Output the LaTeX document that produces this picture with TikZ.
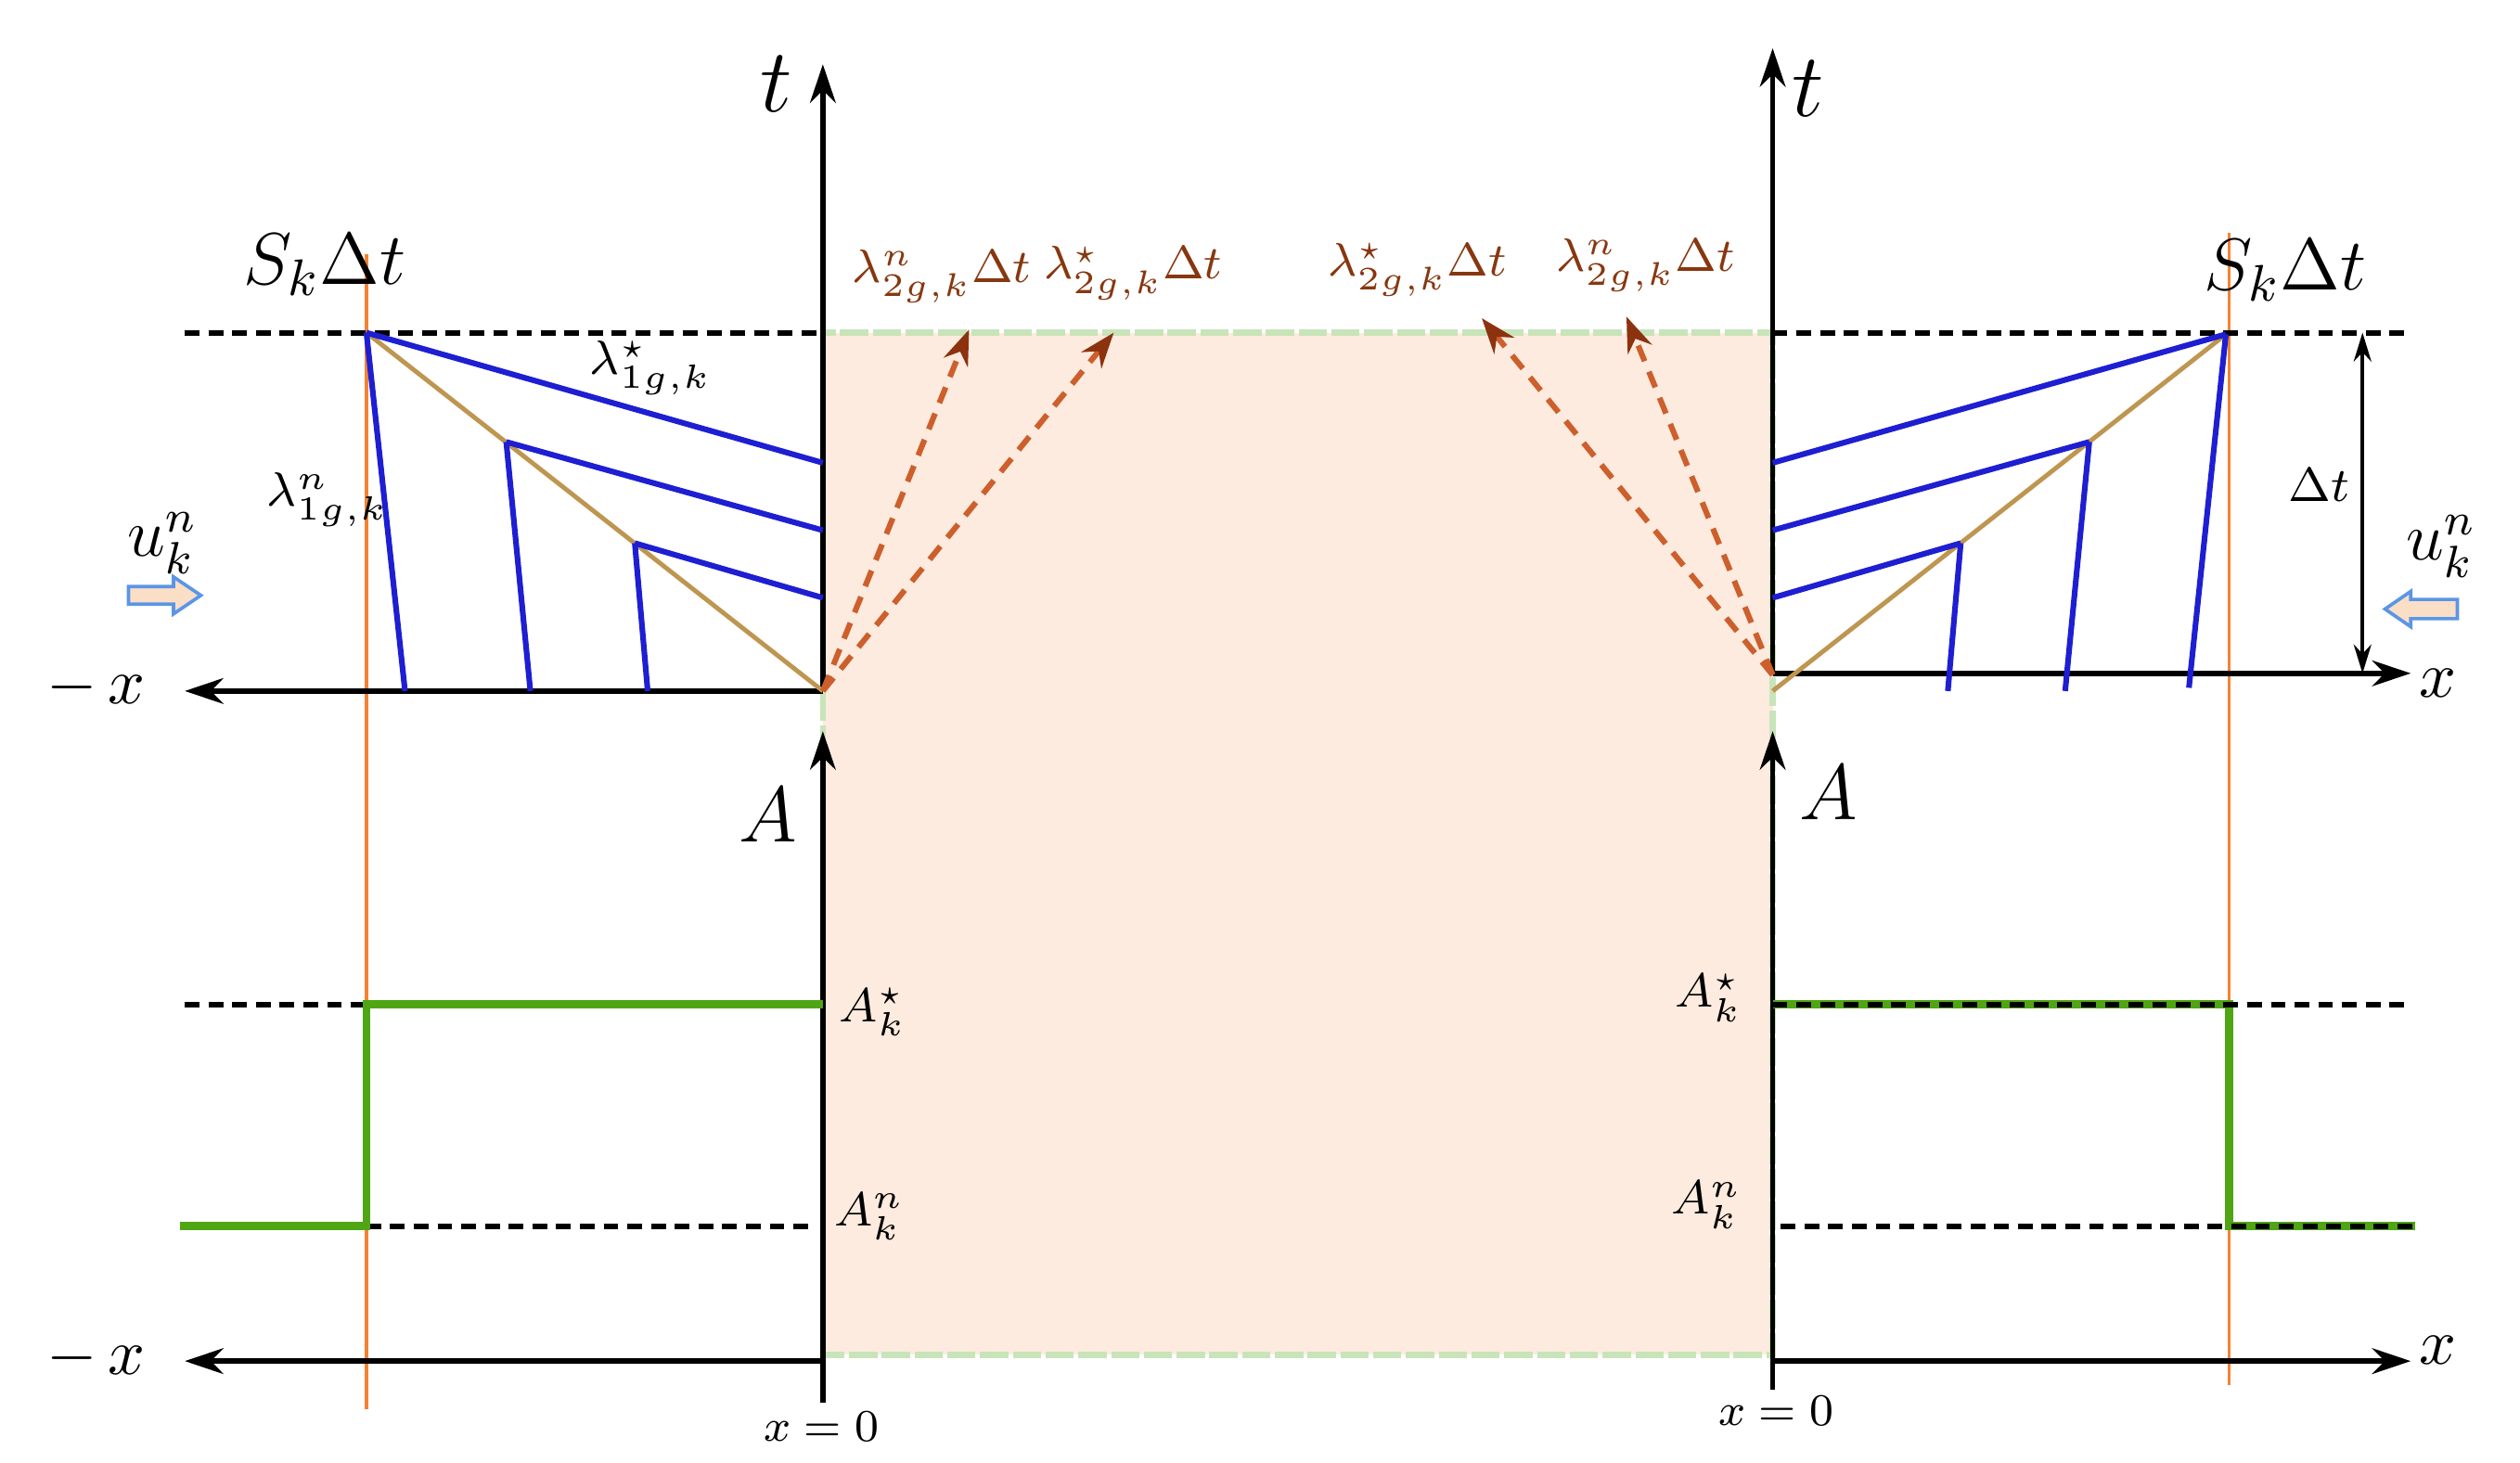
\documentclass[tikz,border=0pt]{standalone}
\usepackage{fix-cm}
\usepackage{amsmath}
\usetikzlibrary{arrows.meta}
\definecolor{cPeach}{RGB}{252,235,222}
\definecolor{cBorder}{RGB}{200,228,185}
\definecolor{cBlue}{RGB}{30,30,210}
\definecolor{cTan}{RGB}{190,150,80}
\definecolor{cGreen}{RGB}{80,165,20}
\definecolor{cOrange}{RGB}{245,130,50}
\definecolor{cWave}{RGB}{205,95,45}
\definecolor{cTip}{RGB}{140,50,15}
\definecolor{cLabel}{RGB}{135,55,15}
\definecolor{cArrFill}{RGB}{250,222,198}
\definecolor{cArrDraw}{RGB}{90,150,230}
\tikzset{
  axisarrow/.style={line width=0.9pt,-{Stealth[length=2.4mm,width=1.6mm]}},
  guidedash/.style={line width=1pt,dash pattern=on 2.6pt off 1.6pt},
  fanblue/.style={draw=cBlue,line width=1pt},
  fantan/.style={draw=cTan,line width=0.8pt},
  shockline/.style={draw=cOrange,line width=0.6pt},
  arealine/.style={draw=cGreen,line width=1.4pt},
  wavearrow/.style={draw=cWave,line width=1pt,dash pattern=on 3pt off 2pt,
    -{Stealth[length=2.2mm,width=1.6mm,color=cTip]}},
  blockarr/.style={draw=cArrDraw,fill=cArrFill,line width=0.6pt},
  dimarrow/.style={line width=0.6pt,{Stealth[length=1.8mm,width=1.1mm]}-{Stealth[length=1.8mm,width=1.1mm]}},
  lbl/.style={inner sep=0pt},
  bigt/.style={lbl,font=\fontsize{16}{18}\selectfont},
  bigA/.style={lbl,font=\fontsize{14}{16}\selectfont},
  axlbl/.style={lbl,font=\fontsize{11.5}{13}\selectfont},
  shk/.style={lbl,font=\fontsize{13}{15}\selectfont},
  wavelbl/.style={lbl,text=cLabel,font=\fontsize{8.3}{10}\selectfont},
  smalllbl/.style={lbl,font=\fontsize{8.5}{10}\selectfont},
  tinylbl/.style={lbl,font=\fontsize{8}{9}\selectfont},
  ulbl/.style={lbl,font=\fontsize{12}{14}\selectfont},
}
\begin{document}
\begin{tikzpicture}[x=0.1mm,y=-0.1mm]
\useasboundingbox (0,0) rectangle (1568,910);
% key coordinates
\coordinate (LO) at (512,430);
\coordinate (RO) at (1103,419);
\coordinate (RW) at (1103,420);
\coordinate (boxTL) at (512,207);
\coordinate (boxBR) at (1103,843);
% shaded region
\fill[cPeach] (boxTL) rectangle (boxBR);
\draw[cBorder,line width=1.1pt,dash pattern=on 5pt off 0.8pt] (boxTL) rectangle (boxBR);

% shock lines (orange)
\coordinate (LS1) at (228,158); \coordinate (LS2) at (228,877);
\coordinate (RS1) at (1387,145); \coordinate (RS2) at (1387,862);
\draw[shockline] (LS1) -- (LS2);
\draw[shockline] (RS1) -- (RS2);

% ---------- upper left ----------
\coordinate (LTtop) at (512,40);
\coordinate (LXend) at (115,430);
\draw[axisarrow] (LO) -- (LTtop);
\draw[axisarrow] (LO) -- (LXend);
\coordinate (LD1) at (115,207); \coordinate (LD2) at (512,207);
\draw[guidedash] (LD1) -- (LD2);
\node[bigt] (tL) at (483,52) {$t$};
\node[axlbl] (mxU) at (60,428) {$-\,x$};
\node[shk] (skL) at (202,165) {$S_k\Delta t$};

\coordinate (La) at (228,207);
\coordinate (Lb) at (315,275);
\coordinate (Lc) at (395,338);
\draw[fantan] (La) -- (LO);
\draw[fanblue] (La) -- (252,430);
\draw[fanblue] (Lb) -- (330,430);
\draw[fanblue] (Lc) -- (403,430);
\draw[fanblue] (La) -- (512,288);
\draw[fanblue] (Lb) -- (512,330);
\draw[fanblue] (Lc) -- (512,372);
\node[smalllbl] (l1n) at (204,311) {$\lambda^n_{1g,k}$};
\node[smalllbl] (l1s) at (405,229) {$\lambda^\star_{1g,k}$};

\node[ulbl] (uL) at (101,338) {$u^n_k$};
\draw[blockarr] (80,365) -- (108,365) -- (108,359) -- (125,370.5) -- (108,382) -- (108,376) -- (80,376) -- cycle;

% ---------- upper right ----------
\coordinate (RTtop) at (1103,30);
\coordinate (RXend) at (1500,419);
\draw[axisarrow] (RO) -- (RTtop);
\draw[axisarrow] (RO) -- (RXend);
\coordinate (RD1) at (1103,207); \coordinate (RD2) at (1500,207);
\draw[guidedash] (RD1) -- (RD2);
\node[bigt] (tR) at (1125,55) {$t$};
\node[axlbl] (xU) at (1517,425) {$x$};
\node[shk] (skR) at (1422,168) {$S_k\Delta t$};

\coordinate (Ra) at (1385,208);
\coordinate (Rb) at (1300,275);
\coordinate (Rc) at (1220,338);
\draw[fantan] (Ra) -- (1103,430);
\draw[fanblue] (Ra) -- (1362,428);
\draw[fanblue] (Rb) -- (1285,430);
\draw[fanblue] (Rc) -- (1212,430);
\draw[fanblue] (Ra) -- (1103,288);
\draw[fanblue] (Rb) -- (1103,330);
\draw[fanblue] (Rc) -- (1103,372);

\coordinate (DT1) at (1470,207); \coordinate (DT2) at (1470,419);
\draw[dimarrow] (DT1) -- (DT2);
\node[smalllbl] (dtl) at (1443,302) {$\Delta t$};

\node[ulbl] (uR) at (1519,340) {$u^n_k$};
\draw[blockarr] (1529,373) -- (1500,373) -- (1500,368) -- (1484,379) -- (1500,390) -- (1500,385) -- (1529,385) -- cycle;

% ---------- waves into shaded region ----------
\coordinate (w1) at (603,205);
\coordinate (w2) at (693,207);
\coordinate (w3) at (922,198);
\coordinate (w4) at (1012,197);
\draw[wavearrow] (LO) -- (w1);
\draw[wavearrow] (LO) -- (w2);
\draw[wavearrow] (RW) -- (w3);
\draw[wavearrow] (RW) -- (w4);
\node[wavelbl] (wl1) at (586,172) {$\lambda^n_{2g,k}\Delta t$};
\node[wavelbl] (wl2) at (705,170) {$\lambda^\star_{2g,k}\Delta t$};
\node[wavelbl] (wl3) at (882,168) {$\lambda^\star_{2g,k}\Delta t$};
\node[wavelbl] (wl4) at (1024,165) {$\lambda^n_{2g,k}\Delta t$};

% ---------- lower left ----------
\coordinate (LAb) at (512,873); \coordinate (LAt) at (512,455);
\coordinate (LXo) at (512,847); \coordinate (LXe) at (115,847);
\draw[axisarrow] (LAb) -- (LAt);
\draw[axisarrow] (LXo) -- (LXe);
\node[bigA] (AL) at (478,507) {$A$};
\node[axlbl] (mxL) at (60,845) {$-\,x$};
\node[tinylbl] (x0L) at (511,888) {$x=0$};

\draw[guidedash] (115,625) -- (228,625);
\draw[guidedash] (228,763) -- (507,763);
\draw[arealine] (112,763) -- (228,763) -- (228,625) -- (512,625);
\node[smalllbl] (AsL) at (543,630) {$A^\star_k$};
\node[smalllbl] (AnL) at (541,757) {$A^n_k$};

% ---------- lower right ----------
\coordinate (RAb) at (1103,865); \coordinate (RAt) at (1103,455);
\coordinate (RXo) at (1103,847); \coordinate (RXe) at (1500,847);
\draw[axisarrow] (RAb) -- (RAt);
\draw[axisarrow] (RXo) -- (RXe);
\node[bigA] (AR) at (1138,493) {$A$};
\node[axlbl] (xL) at (1517,840) {$x$};
\node[tinylbl] (x0R) at (1105,878) {$x=0$};

\draw[arealine] (1103,625) -- (1387,625) -- (1387,763) -- (1503,763);
\draw[guidedash] (1103,625) -- (1500,625);
\draw[guidedash] (1108,763) -- (1503,763);
\node[smalllbl] (AsR) at (1063,621) {$A^\star_k$};
\node[smalllbl] (AnR) at (1062,750) {$A^n_k$};
\end{tikzpicture}
\end{document}
